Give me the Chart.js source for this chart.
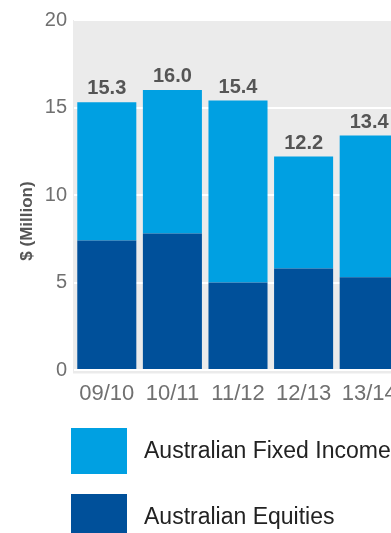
<!DOCTYPE html>
<html>
<head>
<meta charset="utf-8">
<script src="https://cdn.jsdelivr.net/npm/chart.js@4/dist/chart.umd.min.js"></script>
<style>
    html, body { margin: 0; padding: 0; background: #fff; overflow: hidden; }
</style>
</head>
<body>
<canvas id="barChart" width="402" height="550"></canvas>
<script>
window.addEventListener('load', function () {
    barChartDraw();
})

let color_fixed_blue = '#00a0e2'
let color_equity_navy = '#00509a'
let color_panel_grey = '#ebebeb'
let color_tick_grey = '#707070'
let color_label_grey = '#555555'

let years = ['09/10', '10/11', '11/12', '12/13', '13/14']
let equities = [7.4, 7.8, 5.0, 5.8, 5.3]
let fixedIncome = [7.9, 8.2, 10.4, 6.4, 8.1]
let yTicks = [0, 5, 10, 15, 20]

let fontFamily = '"Liberation Sans", Arial, Helvetica, sans-serif'

// grey panel behind the bars
let panelPlugin = {
    id: 'panel',
    beforeDraw: function (chart) {
        let a = chart.chartArea
        let ctx = chart.ctx
        ctx.save()
        ctx.fillStyle = color_panel_grey
        ctx.fillRect(a.left - 1, a.top, a.right - a.left + 1, a.bottom - a.top + 3.5)
        ctx.restore()
    }
}

// totals above each stack and the rotated axis title
let labelPlugin = {
    id: 'totals',
    afterDatasetsDraw: function (chart) {
        let ctx = chart.ctx
        let top = chart.getDatasetMeta(chart.data.datasets.length - 1)
        ctx.save()
        ctx.fillStyle = color_label_grey
        ctx.font = 'bold 20px ' + fontFamily
        ctx.textAlign = 'center'
        ctx.textBaseline = 'alphabetic'
        top.data.forEach(function (bar, i) {
            let total = equities[i] + fixedIncome[i]
            ctx.fillText(total.toFixed(1), bar.x, bar.y - 8)
        })

        ctx.font = 'bold 17px ' + fontFamily
        ctx.translate(27, 221)
        ctx.rotate(-Math.PI / 2)
        ctx.textBaseline = 'middle'
        ctx.fillText('$ (Million)', 0, 0)
        ctx.restore()
    }
}

// big square legend under the axis, top series first
let legendPlugin = {
    id: 'bigLegend',
    afterDraw: function (chart) {
        let ctx = chart.ctx
        let sets = chart.data.datasets.slice().reverse()
        let y0 = chart.chartArea.bottom + 58
        ctx.save()
        ctx.font = '23px ' + fontFamily
        ctx.textAlign = 'left'
        ctx.textBaseline = 'middle'
        sets.forEach(function (ds, k) {
            let y = y0 + k * 66
            ctx.fillStyle = ds.backgroundColor
            ctx.fillRect(71, y, 56, 46)
            ctx.fillStyle = '#222222'
            ctx.fillText(ds.label, 144, y + 24)
        })
        ctx.restore()
    }
}

let barChartData = {
    labels: years,
    datasets: [{
        label: 'Australian Equities',
        data: equities,
        backgroundColor: color_equity_navy,
        borderWidth: 0
    }, {
        label: 'Australian Fixed Income',
        data: fixedIncome,
        backgroundColor: color_fixed_blue,
        borderWidth: 0
    }]
};

let barChartDraw = function () {
    let ctx = document.getElementById('barChart').getContext('2d');

    window.barChart = new Chart(ctx, {
        type: 'bar',
        data: barChartData,
        plugins: [panelPlugin, labelPlugin, legendPlugin],
        options: {
            responsive: false,
            animation: false,
            devicePixelRatio: 1,
            layout: {
                padding: { left: 0, top: 20, right: 0, bottom: 142 }
            },
            datasets: {
                bar: { categoryPercentage: 1, barPercentage: 0.9 }
            },
            scales: {
                x: {
                    stacked: true,
                    grid: { display: false },
                    border: { display: false },
                    ticks: {
                        color: color_tick_grey,
                        font: { family: fontFamily, size: 22 },
                        padding: 3,
                        maxRotation: 0
                    },
                    afterFit: function (scale) { scale.height = 38 }
                },
                y: {
                    stacked: true,
                    min: 0,
                    max: 20,
                    afterBuildTicks: function (scale) {
                        scale.ticks = yTicks.map(function (v) { return { value: v } })
                    },
                    grid: { color: '#ffffff', lineWidth: 2, drawTicks: false },
                    border: { display: false },
                    ticks: {
                        color: color_tick_grey,
                        font: { family: fontFamily, size: 20 },
                        padding: 7
                    },
                    afterFit: function (scale) { scale.width = 74 }
                }
            },
            plugins: {
                legend: { display: false },
                tooltip: { enabled: false }
            }
        },
    });
};
</script>
</body>
</html>
